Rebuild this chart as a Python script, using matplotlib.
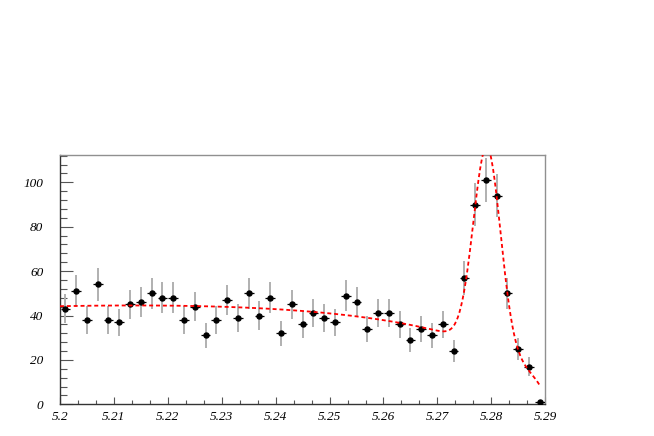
import matplotlib
matplotlib.use("Agg")
import matplotlib.pyplot as plt
import numpy as np
from matplotlib.ticker import MultipleLocator, AutoMinorLocator

# bin centres (width 0.002) and counts
bin_centers = [5.201, 5.203, 5.205, 5.207, 5.209, 5.211, 5.213, 5.215, 5.217,
               5.219, 5.221, 5.223, 5.225, 5.227, 5.229, 5.231, 5.233, 5.235,
               5.237, 5.239, 5.241, 5.243, 5.245, 5.247, 5.249, 5.251, 5.253,
               5.255, 5.257, 5.259, 5.261, 5.263, 5.265, 5.267, 5.269, 5.271,
               5.273, 5.275, 5.277, 5.279, 5.281, 5.283, 5.285, 5.287, 5.289]
counts = [43, 51, 38, 54, 38, 37, 45, 46, 50, 48, 48, 38, 44, 31, 38, 47, 39, 50,
          40, 48, 32, 45, 36, 41, 39, 37, 49, 46, 34, 41, 41, 36, 29, 34, 31, 36,
          24, 57, 90, 101, 94, 50, 25, 17, 1]

# fit parameters: ARGUS background + gaussian signal
argus_end = 5.29
argus_c = -17.0
argus_norm = 44.2
sig_mean = 5.2792
sig_width = 0.0025
sig_height = 90.0

x = np.array(bin_centers)
y = np.array(counts, dtype=float)
yerr = np.sqrt(y)


def argus(m):
    u = np.clip(1 - (m / argus_end) ** 2, 0, None)
    return m * np.sqrt(u) * np.exp(argus_c * u)


def fitfunc(m):
    bkg = argus_norm * argus(m) / argus(5.2)
    sig = sig_height * np.exp(-0.5 * ((m - sig_mean) / sig_width) ** 2)
    return bkg + sig


fig = plt.figure(figsize=(6.54, 4.36), dpi=100)
ax = fig.add_axes([0.0917, 0.0727, 0.742, 0.5718])

ax.errorbar(x, y, yerr=yerr, fmt="none", ecolor="#b0b0b0", elinewidth=1.4,
            capsize=0, zorder=2)
ax.errorbar(x, y, xerr=0.0009, fmt="o", color="k", ms=3.6, elinewidth=0.9,
            capsize=0, zorder=3)

mm = np.linspace(5.2, 5.2891, 600)
ax.plot(mm, fitfunc(mm), color="red", lw=1.3, ls=(0, (2.2, 1.6)), zorder=4)

ax.set_xlim(5.2, 5.29)
ax.set_ylim(0, 112.3)

ax.xaxis.set_major_locator(MultipleLocator(0.01))
ax.xaxis.set_minor_locator(AutoMinorLocator(3))
ax.yaxis.set_major_locator(MultipleLocator(20))
ax.yaxis.set_minor_locator(AutoMinorLocator(5))

ax.set_xticks(np.arange(5.2, 5.2901, 0.01))
ax.set_xticklabels(["5.2", "5.21", "5.22", "5.23", "5.24", "5.25", "5.26",
                    "5.27", "5.28", "5.29"])

ax.tick_params(axis="x", which="major", direction="in", length=5, width=0.8,
               color="#555555", pad=5)
ax.tick_params(axis="x", which="minor", direction="in", length=3, width=0.8,
               color="#555555")
ax.tick_params(axis="y", which="major", direction="in", length=9, width=0.8,
               color="#555555", pad=12)
ax.tick_params(axis="y", which="minor", direction="in", length=5, width=0.8,
               color="#555555")
ax.tick_params(top=False, right=False, which="both")

for lab in ax.get_xticklabels() + ax.get_yticklabels():
    lab.set_family("Liberation Serif")
    lab.set_style("italic")
    lab.set_fontsize(9.5)

for side in ["top", "right"]:
    ax.spines[side].set_color("#909090")
    ax.spines[side].set_linewidth(1.0)
for side in ["left", "bottom"]:
    ax.spines[side].set_color("#333333")
    ax.spines[side].set_linewidth(1.0)

plt.savefig("out.png", dpi=100)
plt.close()
